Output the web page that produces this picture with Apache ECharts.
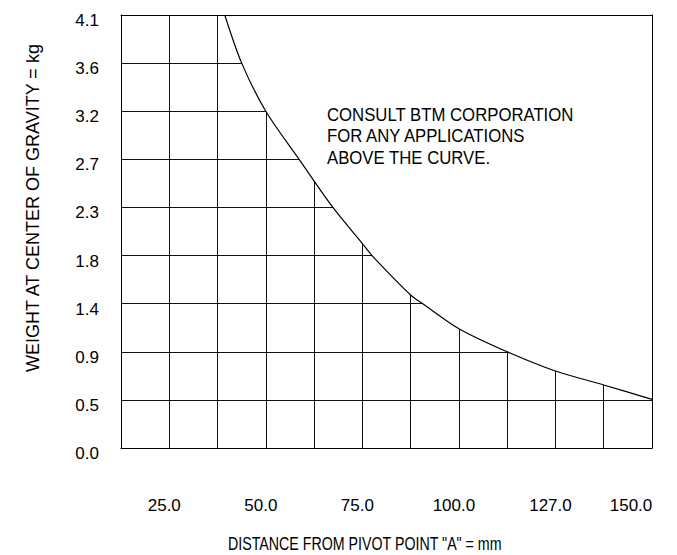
<!DOCTYPE html>
<html>
<head>
<meta charset="utf-8">
<script src="https://cdn.jsdelivr.net/npm/echarts@6/dist/echarts.min.js"></script>
<style>
html,body{margin:0;padding:0;background:#fff;}
#c{width:677px;height:555px;}
</style>
</head>
<body>
<div id="c"></div>
<script>
// Tick labels (one per grid line)
const xTickLabels = ['', '25.0', '', '50.0', '', '75.0', '', '100.0', '', '127.0', '', '150.0'];
const yTickLabels = ['0.0', '0.5', '0.9', '1.4', '1.8', '2.3', '2.7', '3.2', '3.6', '4.1'];
// Limit curve, in grid-cell units (x: grid line index, y: grid line index)
const curveX = [2.15, 2.5, 3.0, 3.69, 4.39, 5.0, 5.2, 6.0, 6.25, 7.0, 8.0, 9.0, 10.0, 11.0];
const curveY = [9.0, 8.0, 7.0, 6.0, 5.0, 4.25, 4.0, 3.18, 3.0, 2.48, 2.0, 1.6, 1.31, 1.01];
const noteLines = ['CONSULT BTM CORPORATION', 'FOR ANY APPLICATIONS', 'ABOVE THE CURVE.'];
const xTitle = 'DISTANCE FROM PIVOT POINT "A" = mm';
const yTitle = 'WEIGHT AT CENTER OF GRAVITY = kg';

const FONT = '"Liberation Sans", Arial, sans-serif';
const chart = echarts.init(document.getElementById('c'), null, {renderer: 'svg'});
const curve = curveX.map((x, i) => [x, curveY[i]]);
const lastX = xTickLabels.length - 1;

chart.setOption({
  animation: false,
  backgroundColor: '#fff',
  grid: {left: 121, right: 25, top: 15, bottom: 107},
  xAxis: [{
    type: 'value', min: 0, max: lastX, interval: 1,
    axisLine: {show: true, lineStyle: {color: '#000', width: 1}},
    axisTick: {show: false},
    splitLine: {show: true, lineStyle: {color: '#111', width: 1}},
    axisLabel: {
      margin: 49, color: '#000', fontFamily: FONT, fontSize: 17,
      formatter: v => {
        const i = Math.round(v);
        const t = xTickLabels[i] || '';
        if (!t) return '';
        return i === lastX ? '{r|' + t + '}' : '{c|' + t + '}';
      },
      rich: {
        c: {fontFamily: FONT, fontSize: 17, color: '#000', padding: [0, 10, 0, 0]},
        r: {fontFamily: FONT, fontSize: 17, color: '#000', padding: [0, 42, 0, 0]}
      }
    }
  }, {
    type: 'value', position: 'top', min: 0, max: lastX, interval: 1, z: 10,
    axisLine: {show: true, onZero: false, lineStyle: {color: '#000', width: 1}},
    axisTick: {show: false}, axisLabel: {show: false}, splitLine: {show: false}
  }],
  yAxis: [{
    type: 'value', min: 0, max: yTickLabels.length - 1, interval: 1,
    axisLine: {show: true, lineStyle: {color: '#000', width: 1}},
    axisTick: {show: false},
    splitLine: {show: true, lineStyle: {color: '#111', width: 1}},
    axisLabel: {
      margin: 22, color: '#000', fontFamily: FONT, fontSize: 17,
      formatter: v => '{a|' + (yTickLabels[Math.round(v)] || '') + '}',
      rich: {a: {fontFamily: FONT, fontSize: 17, color: '#000', padding: [11, 0, 0, 0]}}
    }
  }, {
    type: 'value', position: 'right', min: 0, max: yTickLabels.length - 1, interval: 1, z: 10,
    axisLine: {show: true, onZero: false, lineStyle: {color: '#000', width: 1}},
    axisTick: {show: false}, axisLabel: {show: false}, splitLine: {show: false}
  }],
  series: [{
    type: 'line',
    data: curve,
    smooth: 0.3,
    symbol: 'none',
    lineStyle: {color: '#000', width: 1.2},
    areaStyle: {color: '#fff', opacity: 1, origin: 'end'},
    z: 3
  }],
  graphic: [
    {
      type: 'text', x: 327, y: 104, scaleX: 0.93, z: 20,
      style: {text: noteLines.join('\n'), fill: '#000', font: '18px ' + FONT, lineHeight: 21.5}
    },
    {
      type: 'text', x: 228, y: 534, scaleX: 0.79, z: 20,
      style: {text: xTitle, fill: '#000', font: '18px ' + FONT, verticalAlign: 'top'}
    },
    {
      type: 'text', x: 24, y: 372, rotation: Math.PI / 2, z: 20,
      style: {text: yTitle, fill: '#000', font: '18px ' + FONT, verticalAlign: 'top'}
    }
  ]
});
</script>
</body>
</html>
